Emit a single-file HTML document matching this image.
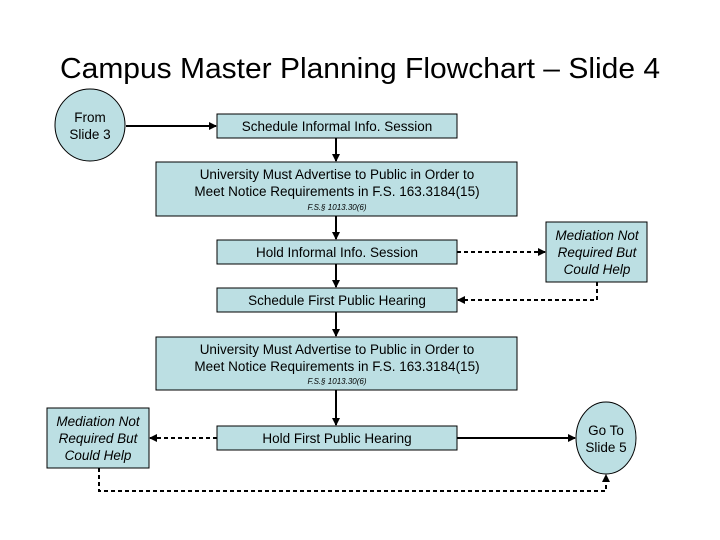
<!DOCTYPE html>
<html><head><meta charset="utf-8"><style>
body{margin:0;background:#fff}
svg{display:block;font-family:"Liberation Sans",sans-serif}
</style></head><body>
<svg width="720" height="540" viewBox="0 0 720 540" xmlns="http://www.w3.org/2000/svg">
<defs><marker id="a" markerWidth="8" markerHeight="8" refX="7" refY="4" orient="auto" markerUnits="userSpaceOnUse"><path d="M0,0 L8,4 L0,8 z" fill="#000"/></marker></defs>
<rect width="720" height="540" fill="#fff"/>
<text x="60" y="78" font-size="28.5" textLength="600" lengthAdjust="spacingAndGlyphs">Campus Master Planning Flowchart – Slide 4</text>
<g fill="#bcdfe3" stroke="#000" stroke-width="1">
<ellipse cx="90" cy="125" rx="35" ry="36"/>
<rect x="217" y="114" width="240" height="24"/>
<rect x="156" y="162" width="361" height="54"/>
<rect x="217" y="240" width="240" height="24"/>
<rect x="546" y="222" width="101" height="60"/>
<rect x="217" y="288" width="240" height="24"/>
<rect x="156" y="337" width="361" height="53"/>
<rect x="217" y="426" width="240" height="24"/>
<rect x="47" y="408" width="102" height="60"/>
<ellipse cx="606" cy="438" rx="30" ry="36"/>
</g>
<g stroke="#000" stroke-width="2" fill="none">
<line x1="126" y1="126" x2="216" y2="126" marker-end="url(#a)"/>
<line x1="336" y1="138" x2="336" y2="161" marker-end="url(#a)"/>
<line x1="336" y1="216" x2="336" y2="239" marker-end="url(#a)"/>
<line x1="336" y1="264" x2="336" y2="287" marker-end="url(#a)"/>
<line x1="336" y1="312" x2="336" y2="336" marker-end="url(#a)"/>
<line x1="336" y1="390" x2="336" y2="425" marker-end="url(#a)"/>
<line x1="457" y1="438" x2="575" y2="438" marker-end="url(#a)"/>
</g>
<g stroke="#000" stroke-width="2" fill="none" stroke-dasharray="4,3">
<line x1="457" y1="252" x2="545" y2="252" marker-end="url(#a)"/>
<polyline points="597,282 597,300 458,300" marker-end="url(#a)"/>
<line x1="217" y1="438" x2="150" y2="438" marker-end="url(#a)"/>
<polyline points="99,468 99,491 606,491 606,475" marker-end="url(#a)"/>
</g>
<g font-size="13.5" text-anchor="middle" fill="#000">
<text x="90" y="122">From</text><text x="90" y="139">Slide 3</text>
<text x="337" y="131">Schedule Informal Info. Session</text>
<text x="337" y="179">University Must Advertise to Public in Order to</text>
<text x="337" y="196">Meet Notice Requirements in F.S. 163.3184(15)</text>
<text x="337" y="257">Hold Informal Info. Session</text>
<text x="337" y="305">Schedule First Public Hearing</text>
<text x="337" y="354">University Must Advertise to Public in Order to</text>
<text x="337" y="371">Meet Notice Requirements in F.S. 163.3184(15)</text>
<text x="337" y="443">Hold First Public Hearing</text>
<text x="606" y="435">Go To</text><text x="606" y="452">Slide 5</text>
</g>
<g font-size="13.5" text-anchor="middle" font-style="italic">
<text x="597" y="240">Mediation Not</text><text x="597" y="257">Required But</text><text x="597" y="274">Could Help</text>
<text x="98" y="426">Mediation Not</text><text x="98" y="443">Required But</text><text x="98" y="460">Could Help</text>
</g>
<g font-size="8" text-anchor="middle" font-style="italic">
<text x="337" y="210">F.S.§ 1013.30(6)</text>
<text x="337" y="384">F.S.§ 1013.30(6)</text>
</g>
</svg>
</body></html>
